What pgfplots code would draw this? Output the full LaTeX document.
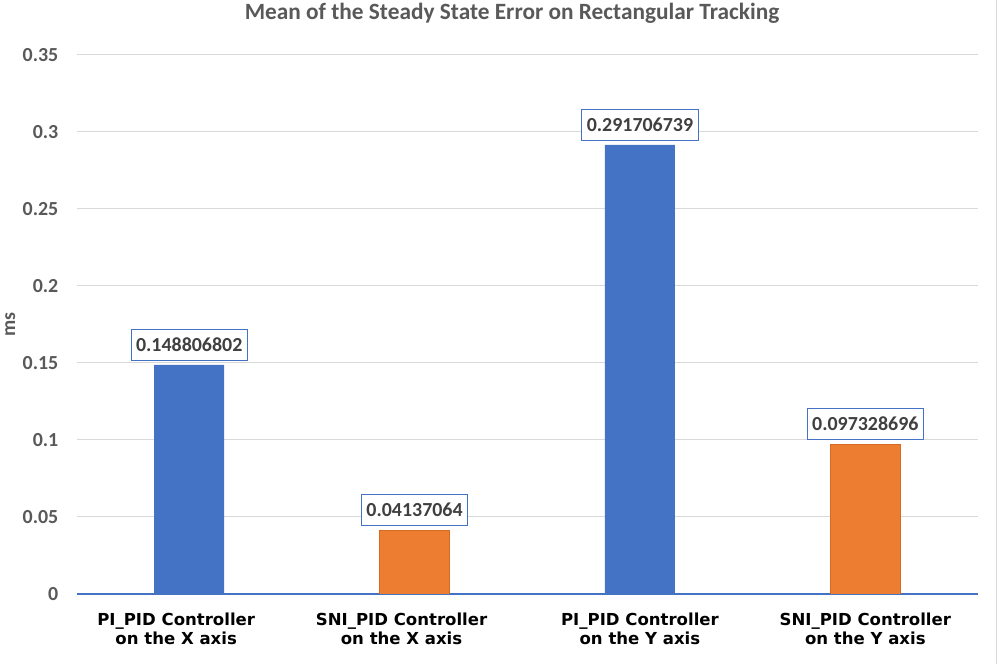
\documentclass[border=0pt]{standalone}
\usepackage{pgfplots}
\pgfplotsset{compat=1.18}
\usepackage{fontspec}
\setmainfont{Carlito}
\newfontfamily\verd{DejaVu Sans}
\definecolor{xlblue}{HTML}{4472C4}
\definecolor{xlorange}{HTML}{ED7D31}
\definecolor{xlorangedk}{HTML}{D86A20}
\definecolor{xlgrid}{HTML}{D9D9D9}
\definecolor{xltext}{HTML}{595959}
\definecolor{xllabel}{HTML}{404040}
\newcommand{\sh}{\hspace*{26bp}}
\begin{document}
\begin{tikzpicture}
\path[use as bounding box] (0,0) rectangle (999bp,664bp);
\begin{axis}[
  at={(76.5bp,70bp)}, anchor=south west,
  scale only axis, width=901.5bp, height=539bp,
  xmin=-0.5, xmax=3.5, ymin=0, ymax=0.35,
  enlargelimits=false,
  ybar, bar width=70bp, bar shift=0pt,
  axis x line*=bottom, axis y line*=left,
  x axis line style={draw=xlblue, line width=1.2bp},
  y axis line style={draw=none},
  tick style={draw=none},
  ymajorgrids, grid style={draw=xlgrid, line width=1bp},
  ytick={0,0.05,0.1,0.15,0.2,0.25,0.3,0.35},
  yticklabels={0,0.05,0.1,0.15,0.2,0.25,0.3,0.35},
  scaled y ticks=false,
  yticklabel style={anchor=east, inner sep=0pt, xshift=-18bp, font=\fontsize{20}{24}\selectfont\bfseries, text=xltext},
  xtick={0,1,2,3},
  xticklabels={{PI\_PID Controller\sh\\on the X axis\sh},{SNI\_PID Controller\sh\\on the X axis\sh},{PI\_PID Controller\\on the Y axis},{SNI\_PID Controller\\on the Y axis}},
  xticklabel style={align=center, anchor=north, inner sep=0pt, yshift=-14bp, font=\verd\fontsize{16.6}{20}\selectfont\bfseries, text=black},
  ylabel={ms},
  every axis y label/.style={at={(axis description cs:-0.0735,0.5)}, anchor=center, inner sep=0pt, rotate=90, font=\fontsize{20}{24}\selectfont\bfseries, text=xltext},
  point meta=explicit symbolic,
  nodes near coords={\pgfplotspointmeta},
  every node near coord/.append style={anchor=south, yshift=4bp, draw=xlblue, line width=0.9bp, fill=white, text=xllabel, font=\fontsize{20}{24}\selectfont\bfseries, inner xsep=5bp, inner ysep=9bp, text height=13bp, text depth=0bp},
]
\addplot[fill=xlblue, draw=none] coordinates {(0,0.148806802) [0.148806802] (2,0.291706739) [0.291706739]};
\addplot[fill=xlorange, draw=xlorangedk, line width=0.6bp] coordinates {(1,0.04137064) [0.04137064] (3,0.097328696) [0.097328696]};
\end{axis}
\node[anchor=base, inner sep=0pt, text=xltext, font=\fontsize{23.4}{28}\selectfont\bfseries] at (512bp,644bp) {Mean of the Steady State Error on Rectangular Tracking};
\draw[color=xlgrid, line width=1bp] (996bp,0) -- (996bp,664bp);
\end{tikzpicture}
\end{document}
